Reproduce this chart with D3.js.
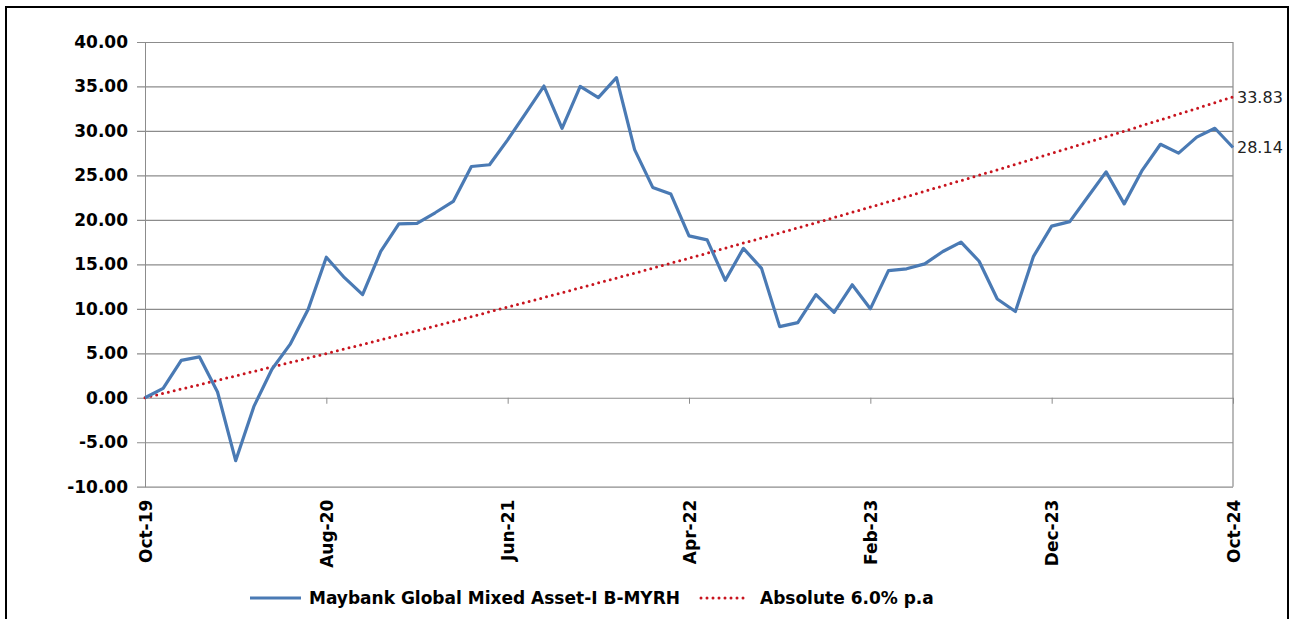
<!DOCTYPE html>
<html>
<head>
<meta charset="utf-8">
<script src="https://cdn.jsdelivr.net/npm/d3@7"></script>
<style>
  body { margin: 0; background: #fff; }
  svg { display: block; }
</style>
</head>
<body>
<div id="container"></div>
<script>
/* DATA */
const months = [
  "Oct-19","Nov-19","Dec-19","Jan-20","Feb-20","Mar-20","Apr-20","May-20","Jun-20","Jul-20",
  "Aug-20","Sep-20","Oct-20","Nov-20","Dec-20","Jan-21","Feb-21","Mar-21","Apr-21","May-21",
  "Jun-21","Jul-21","Aug-21","Sep-21","Oct-21","Nov-21","Dec-21","Jan-22","Feb-22","Mar-22",
  "Apr-22","May-22","Jun-22","Jul-22","Aug-22","Sep-22","Oct-22","Nov-22","Dec-22","Jan-23",
  "Feb-23","Mar-23","Apr-23","May-23","Jun-23","Jul-23","Aug-23","Sep-23","Oct-23","Nov-23",
  "Dec-23","Jan-24","Feb-24","Mar-24","Apr-24","May-24","Jun-24","Jul-24","Aug-24","Sep-24",
  "Oct-24"
];

const fundValues = [
  0.00, 1.05, 4.20, 4.60, 0.65, -7.07, -1.00, 3.20, 6.00, 9.95,
  15.80, 13.50, 11.60, 16.45, 19.55, 19.60, 20.80, 22.07, 26.00, 26.20,
  29.00, 32.00, 35.05, 30.30, 35.00, 33.75, 36.00, 27.90, 23.65, 22.90,
  18.20, 17.75, 13.20, 16.80, 14.55, 8.00, 8.45, 11.60, 9.60, 12.70,
  10.00, 14.30, 14.50, 15.05, 16.45, 17.50, 15.35, 11.10, 9.70, 15.90,
  19.30, 19.80, 22.60, 25.40, 21.80, 25.60, 28.50, 27.50, 29.30, 30.30,
  28.14
];

const benchmarkValues = [
  0.00, 0.49, 0.98, 1.47, 1.96, 2.46, 2.96, 3.46, 3.96, 4.47,
  4.97, 5.48, 6.00, 6.52, 7.03, 7.55, 8.08, 8.60, 9.13, 9.66,
  10.19, 10.73, 11.27, 11.81, 12.36, 12.91, 13.46, 14.01, 14.57, 15.13,
  15.69, 16.25, 16.82, 17.39, 17.96, 18.53, 19.10, 19.68, 20.26, 20.85,
  21.44, 22.03, 22.62, 23.22, 23.82, 24.42, 25.02, 25.63, 26.25, 26.86,
  27.48, 28.10, 28.72, 29.35, 29.98, 30.61, 31.25, 31.89, 32.53, 33.18,
  33.83
];

const xTickLabels = ["Oct-19", "Aug-20", "Jun-21", "Apr-22", "Feb-23", "Dec-23", "Oct-24"];
const yTickValues = [-10, -5, 0, 5, 10, 15, 20, 25, 30, 35, 40];

const fundName = "Maybank Global Mixed Asset-I B-MYRH";
const benchName = "Absolute 6.0% p.a";

/* CONSTANTS */
const width = 1299,
  height = 619,
  margin = { top: 42, bottom: 132, left: 145, right: 66 };

const fundColor = "#4a7ab4",
  benchColor = "#c8141e",
  gridColor = "#8c8c8c",
  font = "'DejaVu Sans', Verdana, sans-serif";

// plain hyphen for negatives, like the original
const fmt = d3.formatLocale({
  decimal: ".", thousands: ",", grouping: [3], currency: ["", ""], minus: "-"
}).format(".2f");

// SVG
const svg = d3.select("#container")
  .append("svg")
  .attr("width", width)
  .attr("height", height)
  .style("font-family", font);

// outer frame
svg.append("rect")
  .attr("x", 6)
  .attr("y", 7)
  .attr("width", 1282)
  .attr("height", 640)
  .attr("fill", "#fff")
  .attr("stroke", "#000")
  .attr("stroke-width", 2);

// SCALES
const xScale = d3.scalePoint()
  .domain(months)
  .range([margin.left, width - margin.right]);

const yScale = d3.scaleLinear()
  .domain([-10, 40])
  .range([height - margin.bottom - 0.3, margin.top]);

const plotW = width - margin.right - margin.left;

// GRIDLINES + Y AXIS
const yAxis = d3.axisLeft(yScale)
  .tickValues(yTickValues)
  .tickFormat(fmt)
  .tickSizeInner(-plotW)
  .tickSizeOuter(0)
  .tickPadding(17);

const yAxisGroup = svg.append("g")
  .attr("class", "yAxis")
  .attr("transform", `translate(${margin.left}, 0)`)
  .call(yAxis)
  .attr("font-family", font);

yAxisGroup.select(".domain").attr("stroke", gridColor);
yAxisGroup.selectAll(".tick line")
  .attr("x1", -8)
  .attr("stroke", gridColor)
  .attr("stroke-width", 1.2);
yAxisGroup.selectAll(".tick text")
  .attr("font-size", 17)
  .attr("font-weight", "bold")
  .attr("fill", "#000");

// right border of plot area
svg.append("line")
  .attr("x1", width - margin.right)
  .attr("x2", width - margin.right)
  .attr("y1", yScale(40))
  .attr("y2", yScale(-10))
  .attr("stroke", gridColor)
  .attr("stroke-width", 1.2);

// X tick marks on zero line
const xTicks = d3.axisBottom(xScale)
  .tickValues(xTickLabels)
  .tickSize(6)
  .tickFormat("");

const xTickGroup = svg.append("g")
  .attr("transform", `translate(0, ${yScale(0)})`)
  .call(xTicks);
xTickGroup.select(".domain").remove();
xTickGroup.selectAll(".tick line").attr("stroke", gridColor);

// X labels at bottom
const xAxis = d3.axisBottom(xScale)
  .tickValues(xTickLabels)
  .tickSize(0);

const xAxisGroup = svg.append("g")
  .attr("class", "xAxis")
  .attr("transform", `translate(0, ${yScale(-10)})`)
  .call(xAxis)
  .attr("font-family", font);
xAxisGroup.select(".domain").remove();
xAxisGroup.selectAll(".tick text")
  .attr("transform", "rotate(-90)")
  .attr("x", -13)
  .attr("y", 0)
  .attr("dy", "0.36em")
  .style("text-anchor", "end")
  .attr("font-size", 17)
  .attr("font-weight", "bold")
  .attr("fill", "#000");

// LINES
const lineGen = vals => d3.line()
  .x((d, i) => xScale(months[i]))
  .y(d => yScale(d))(vals);

svg.append("path")
  .attr("d", lineGen(benchmarkValues))
  .attr("fill", "none")
  .attr("stroke", benchColor)
  .attr("stroke-width", 3)
  .attr("stroke-linecap", "round")
  .attr("stroke-dasharray", "0,6");

svg.append("path")
  .attr("d", lineGen(fundValues))
  .attr("fill", "none")
  .attr("stroke", fundColor)
  .attr("stroke-width", 3.2)
  .attr("stroke-linejoin", "round");

// END LABELS
const last = months.length - 1;
[benchmarkValues[last], fundValues[last]].forEach(v => {
  svg.append("text")
    .attr("x", xScale(months[last]) + 4)
    .attr("y", yScale(v))
    .attr("dy", "0.36em")
    .attr("font-size", 16)
    .attr("fill", "#222")
    .text(fmt(v));
});

// LEGEND
const legY = 598;
svg.append("line")
  .attr("x1", 250).attr("x2", 301)
  .attr("y1", legY).attr("y2", legY)
  .attr("stroke", fundColor)
  .attr("stroke-width", 3.2);

svg.append("text")
  .attr("x", 309)
  .attr("y", legY)
  .attr("dy", "0.36em")
  .attr("font-size", 17)
  .attr("font-weight", "bold")
  .text(fundName);

svg.append("line")
  .attr("x1", 701).attr("x2", 748)
  .attr("y1", legY).attr("y2", legY)
  .attr("stroke", benchColor)
  .attr("stroke-width", 3)
  .attr("stroke-linecap", "round")
  .attr("stroke-dasharray", "0,6");

svg.append("text")
  .attr("x", 760)
  .attr("y", legY)
  .attr("dy", "0.36em")
  .attr("font-size", 17)
  .attr("font-weight", "bold")
  .text(benchName);
</script>
</body>
</html>
